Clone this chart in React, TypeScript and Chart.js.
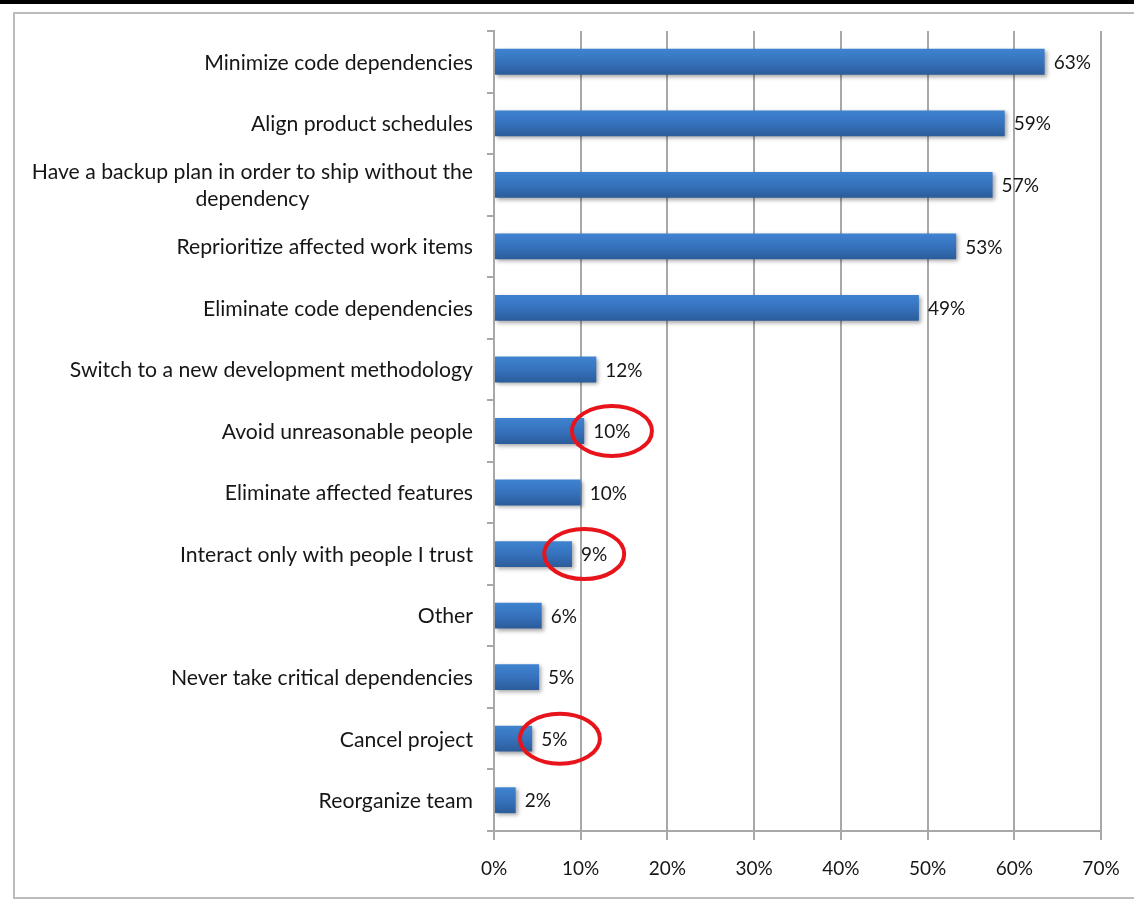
import React, { useEffect, useRef } from 'react';
import { Chart, registerables } from 'chart.js';
Chart.register(...registerables);

const categories: (string | string[])[] = [
  'Minimize code dependencies',
  'Align product schedules',
  ['Have a backup plan in order to ship without the', 'dependency'],
  'Reprioritize affected work items',
  'Eliminate code dependencies',
  'Switch to a new development methodology',
  'Avoid unreasonable people',
  'Eliminate affected features',
  'Interact only with people I trust',
  'Other',
  'Never take critical dependencies',
  'Cancel project',
  'Reorganize team',
];
const values = [63.5, 58.9, 57.5, 53.3, 49.0, 11.8, 10.4, 10.0, 9.0, 5.5, 5.2, 4.4, 2.5];
const valueLabels = ['63%', '59%', '57%', '53%', '49%', '12%', '10%', '10%', '9%', '6%', '5%', '5%', '2%'];
const xMin = 0;
const xMax = 70;
const xStep = 10;
const circledRows = [6, 8, 11];
const circleCenters = [13.6, 10.4, 7.6];

const FONT = 'Lato, "Open Sans", sans-serif';
const FONT_SIZE = 19;
const CAT_FONT_SIZE = 21.2;
const TEXT = '#161616';
const GRID = '#a8a8a8';

export default function App() {
  const ref = useRef<HTMLCanvasElement | null>(null);
  useEffect(() => {
    document.body.style.margin = '0';
    const canvas = ref.current!;
    const deco = {
      id: 'deco',
      beforeDraw(chart: any) {
        const c = chart.ctx;
        c.save();
        c.fillStyle = '#ffffff';
        c.fillRect(0, 0, chart.width, chart.height);
        c.fillStyle = '#000000';
        c.fillRect(0, 0, chart.width, 4);
        c.strokeStyle = '#bcbcbc';
        c.lineWidth = 2;
        c.strokeRect(14, 13, 1200, 885);
        c.restore();
      },
      beforeDatasetsDraw(chart: any) {
        const c = chart.ctx;
        c.save();
        c.shadowColor = 'rgba(0,0,0,0.35)';
        c.shadowBlur = 4;
        c.shadowOffsetX = 2;
        c.shadowOffsetY = 2;
      },
      afterDatasetsDraw(chart: any) {
        const c = chart.ctx;
        c.restore();
        const meta = chart.getDatasetMeta(0);
        const yS = chart.scales.y;
        const xS = chart.scales.x;
        c.save();
        c.font = `${FONT_SIZE}px ${FONT}`;
        c.fillStyle = TEXT;
        c.textBaseline = 'middle';
        c.textAlign = 'left';
        meta.data.forEach((el: any, i: number) => {
          c.fillText(valueLabels[i], el.x + 9, el.y + 1);
        });
        c.font = `${CAT_FONT_SIZE}px ${FONT}`;
        const rightX = yS.right - 21;
        categories.forEach((lab, i) => {
          const cy = yS.getPixelForValue(i) + 1;
          if (Array.isArray(lab)) {
            const lh = 27;
            const maxW = Math.max(...lab.map((l) => c.measureText(l).width));
            const cx = rightX - maxW / 2;
            c.textAlign = 'center';
            lab.forEach((l, k) => {
              c.fillText(l, cx, cy + (k - (lab.length - 1) / 2) * lh);
            });
          } else {
            c.textAlign = 'right';
            c.fillText(lab, rightX, cy);
          }
        });
        c.strokeStyle = '#e8141b';
        c.lineWidth = 4;
        circledRows.forEach((row, k) => {
          const cx = xS.getPixelForValue(circleCenters[k]);
          const cy = yS.getPixelForValue(row);
          c.beginPath();
          c.ellipse(cx, cy, 40, 25, 0, 0, Math.PI * 2);
          c.stroke();
        });
        c.restore();
      },
    };
    const chart = new Chart(canvas, {
      type: 'bar',
      data: {
        labels: categories as any,
        datasets: [
          {
            data: values,
            barPercentage: 0.42,
            categoryPercentage: 1,
            backgroundColor: (ctx: any) => {
              const ch = ctx.chart;
              const yS = ch.scales && ch.scales.y;
              if (!yS || ctx.dataIndex == null) return '#3570b8';
              const cy = yS.getPixelForValue(ctx.dataIndex);
              if (!Number.isFinite(cy)) return '#3570b8';
              const g = ch.ctx.createLinearGradient(0, cy - 13, 0, cy + 13);
              g.addColorStop(0, '#3f83d0');
              g.addColorStop(0.5, '#3672bd');
              g.addColorStop(1, '#2b5c9a');
              return g;
            },
            borderWidth: 0,
          },
        ],
      },
      options: {
        indexAxis: 'y',
        responsive: false,
        animation: false,
        devicePixelRatio: 1,
        layout: { padding: { top: 31, right: 33, left: 0, bottom: 0 } },
        plugins: { legend: { display: false }, tooltip: { enabled: false } },
        scales: {
          x: {
            type: 'linear',
            min: xMin,
            max: xMax,
            position: 'bottom',
            ticks: {
              stepSize: xStep,
              callback: (v: any) => `${v}%`,
              font: { family: FONT, size: FONT_SIZE },
              color: TEXT,
              padding: 17,
              maxRotation: 0,
            },
            grid: { color: GRID, lineWidth: 2, tickLength: 9, drawTicks: true },
            border: { color: GRID, width: 2 },
            afterFit: (s: any) => {
              s.height = 74;
              s.paddingRight = 0;
              s.paddingLeft = 0;
            },
          },
          y: {
            type: 'category',
            position: 'left',
            ticks: { display: false },
            grid: { offset: true, drawOnChartArea: false, drawTicks: true, tickLength: 7, color: GRID, lineWidth: 2 },
            border: { color: GRID, width: 2 },
            afterFit: (s: any) => {
              s.width = 494;
            },
          },
        },
      },
      plugins: [deco],
    } as any);
    return () => chart.destroy();
  }, []);
  return <canvas ref={ref} width={1134} height={905} style={{ display: 'block' }} />;
}
